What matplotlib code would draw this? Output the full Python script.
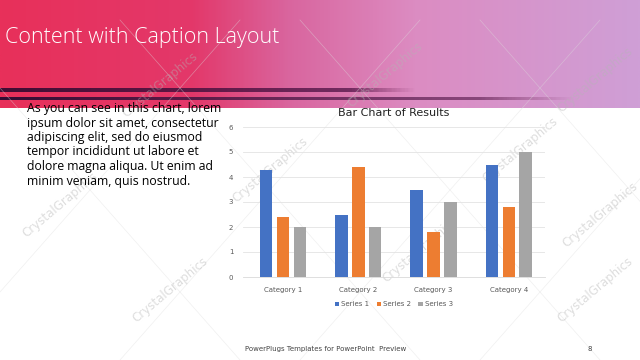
import numpy as np
import matplotlib.pyplot as plt
from matplotlib.colors import LinearSegmentedColormap

categories = ["Category 1", "Category 2", "Category 3", "Category 4"]
series_names = ["Series 1", "Series 2", "Series 3"]
series_1 = [4.3, 2.5, 3.5, 4.5]
series_2 = [2.4, 4.4, 1.8, 2.8]
series_3 = [2.0, 2.0, 3.0, 5.0]
colors = ["#4472C4", "#ED7D31", "#A5A5A5"]

caption = ("As you can see in this chart, lorem\n"
           "ipsum dolor sit amet, consectetur\n"
           "adipiscing elit, sed do eiusmod\n"
           "tempor incididunt ut labore et\n"
           "dolore magna aliqua. Ut enim ad\n"
           "minim veniam, quis nostrud.")

fig = plt.figure(figsize=(6.4, 3.6), dpi=100)
fig.patch.set_facecolor("white")

# slide background (header band + stripes)
bg = fig.add_axes([0, 0, 1, 1])
bg.set_xlim(0, 640)
bg.set_ylim(360, 0)
bg.axis("off")
head = LinearSegmentedColormap.from_list("head", [
    (0.0, "#e8305a"), (0.3, "#e3386a"), (0.45, "#d9659e"),
    (0.65, "#dc8cc2"), (1.0, "#cf9fd6")])
grad = np.linspace(0, 1, 400)[None, :]
bg.imshow(grad, cmap=head, extent=[0, 640, 108, 0], aspect="auto")
fade1 = LinearSegmentedColormap.from_list("f1", [
    (0, (0.25, 0.05, 0.2, 1)), (0.55, (0.35, 0.1, 0.3, 0.8)),
    (0.65, (0.5, 0.2, 0.4, 0)), (1, (0.5, 0.2, 0.4, 0))])
fade2 = LinearSegmentedColormap.from_list("f2", [
    (0, (0.2, 0.05, 0.2, 1)), (0.75, (0.4, 0.15, 0.35, 0.7)),
    (0.9, (0.5, 0.2, 0.4, 0)), (1, (0.5, 0.2, 0.4, 0))])
bg.imshow(grad, cmap=fade1, extent=[0, 640, 92, 88], aspect="auto")
bg.imshow(grad, cmap=fade2, extent=[0, 640, 100, 97], aspect="auto")

# watermarks
for x, y in [(160, 85), (385, 75), (595, 80), (60, 205), (170, 290), (270, 170),
             (420, 250), (520, 150), (595, 290), (600, 215)]:
    bg.text(x, y, "CrystalGraphics", rotation=40, fontsize=8.5, color="#b5b5b5",
            alpha=0.45, ha="center", va="center", family="DejaVu Sans")
for x0 in [-60, 120, 300, 480]:
    bg.plot([x0, x0 + 300], [20, 360], color="#dddddd", lw=0.5, alpha=0.45, zorder=0)
    bg.plot([x0 + 300, x0], [20, 360], color="#dddddd", lw=0.5, alpha=0.45, zorder=0)

bg.text(5, 37, "Content with Caption Layout", fontsize=15.5, color="white",
        va="center", ha="left", family="Open Sans", fontweight="light")
bg.text(27, 102, caption, fontsize=8.8, color="black", va="top", ha="left",
        family="Open Sans", linespacing=1.15)
bg.text(245, 349, "PowerPlugs Templates for PowerPoint  Preview", fontsize=5,
        color="#444444", va="center", ha="left")
bg.text(590, 349, "8", fontsize=5, color="#444444", va="center", ha="center")

# chart
ax = fig.add_axes([243 / 640, 1 - 277 / 360, 302 / 640, 150 / 360])
ax.patch.set_alpha(0)
x = np.arange(len(categories))
w = 0.168
for i, (vals, name) in enumerate(zip([series_1, series_2, series_3], series_names)):
    ax.bar(x + (i - 1) * 0.225, vals, w, color=colors[i], label=name, zorder=3)
ax.set_xlim(-0.53, 3.48)
ax.set_ylim(0, 6)
ax.set_yticks(range(7))
ax.set_xticks(x)
ax.set_xticklabels(categories)
ax.tick_params(length=0, labelsize=5, colors="#595959")
ax.tick_params(axis="x", pad=7)
ax.tick_params(axis="y", pad=7)
ax.grid(axis="y", color="#e3e3e3", lw=0.6, zorder=0)
for s in ["top", "right", "left"]:
    ax.spines[s].set_visible(False)
ax.spines["bottom"].set_color("#d9d9d9")
ax.spines["bottom"].set_linewidth(0.6)
ax.set_title("Bar Chart of Results", fontsize=8, color="#222222", pad=8)
ax.legend(loc="upper center", bbox_to_anchor=(0.5, -0.12), ncol=3, frameon=False,
          fontsize=5, handlelength=0.6, handleheight=0.6, handletextpad=0.4,
          columnspacing=1.0, labelcolor="#595959")

fig.savefig("out.png", dpi=100)
